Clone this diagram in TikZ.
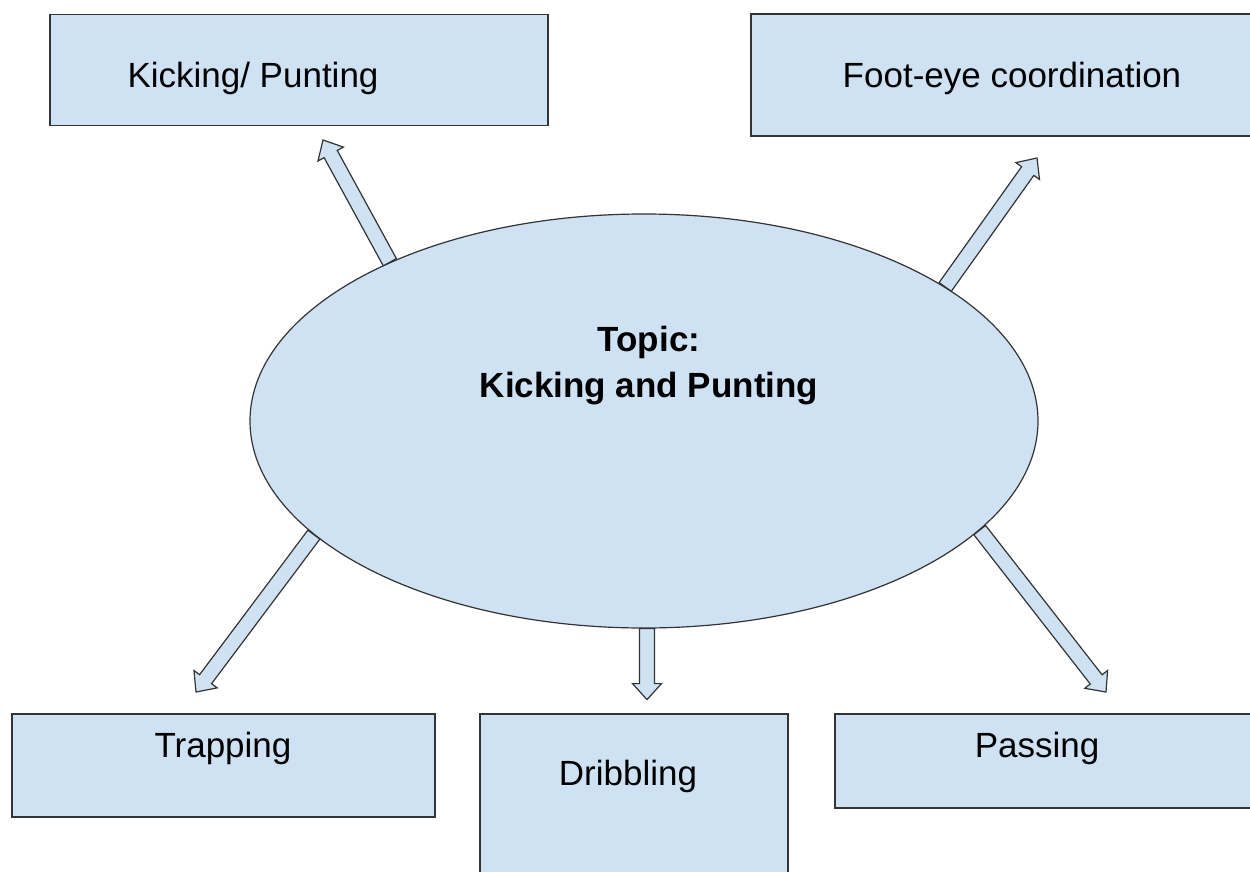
\documentclass[tikz,border=0pt]{standalone}
\usepackage{fontspec}
\setmainfont{Liberation Sans}
\usetikzlibrary{shapes.geometric,calc}
\definecolor{paleblue}{HTML}{CFE2F3}
\definecolor{edgegray}{HTML}{333333}

\tikzset{
  box/.style={draw=edgegray, line width=1.6pt, fill=paleblue, inner sep=0pt},
  topicshape/.style={ellipse, draw=edgegray, line width=1.2pt, fill=paleblue,
    minimum width=788pt, minimum height=414pt, inner sep=0pt},
  caption/.style={font=\fontsize{35}{46}\selectfont, inner sep=0pt, anchor=base},
  blockarrow/.style={draw=edgegray, line width=1.2pt, fill=paleblue, line join=miter},
}

% hollow block arrow from #1 (tail) to #2 (tip)
\newcommand\blockarrowpath[2]{%
  \draw[blockarrow] let \p1=(#1), \p2=(#2),
    \n1={atan2((\y2)-(\y1),(\x2)-(\x1))},
    \n2={veclen((\x2)-(\x1),(\y2)-(\y1))} in
    [shift={(\p1)}, rotate=\n1]
    (0pt,-7.5pt) -- ({\n2-16pt},-7.5pt) -- ({\n2-16pt},-14.5pt) -- ({\n2},0pt)
    -- ({\n2-16pt},14.5pt) -- ({\n2-16pt},7.5pt) -- (0pt,7.5pt) -- cycle;}

\begin{document}
\begin{tikzpicture}[x=1pt, y=-1pt]
  \useasboundingbox (0,0) rectangle (1250,872);
  \clip (0,0) rectangle (1250,872);

  % outer boxes
  \node[box, minimum width=498pt, minimum height=111pt] (kick) at (299,70) {};
  \node[box, minimum width=509pt, minimum height=122pt] (foot) at (1005.5,75) {};
  \node[box, minimum width=423pt, minimum height=103pt] (trap) at (223.5,765.5) {};
  \node[box, minimum width=308pt, minimum height=166pt] (drib) at (634,797) {};
  \node[box, minimum width=425pt, minimum height=94pt] (pass) at (1047.5,761) {};

  \node[caption] (kicktext) at (253,88) {Kicking/ Punting};
  \node[caption] (foottext) at (1012,88) {Foot-eye coordination};
  \node[caption] (traptext) at (223,757) {Trapping};
  \node[caption] (dribtext) at (628,785) {Dribbling};
  \node[caption] (passtext) at (1037,757) {Passing};

  % central topic
  \node[topicshape] (topic) at (644,421) {};
  \node[font=\bfseries\fontsize{35}{46}\selectfont, align=center, inner sep=0pt]
    (topictext) at (649,366) {Topic:\\Kicking and Punting};

  % arrow ends
  \coordinate (kicktip) at (323,140);
  \coordinate (foottip) at (1037,158);
  \coordinate (traptip) at (196,692);
  \coordinate (dribtail) at ($(topic.south)+(3,0)$);
  \coordinate (dribtip) at ($(topic.south)+(3,71)$);
  \coordinate (passtip) at (1106,692);

  \blockarrowpath{topic.148.9}{kicktip}
  \blockarrowpath{topic.24.7}{foottip}
  \blockarrowpath{topic.199.1}{traptip}
  \blockarrowpath{dribtail}{dribtip}
  \blockarrowpath{topic.-18.5}{passtip}
\end{tikzpicture}
\end{document}
